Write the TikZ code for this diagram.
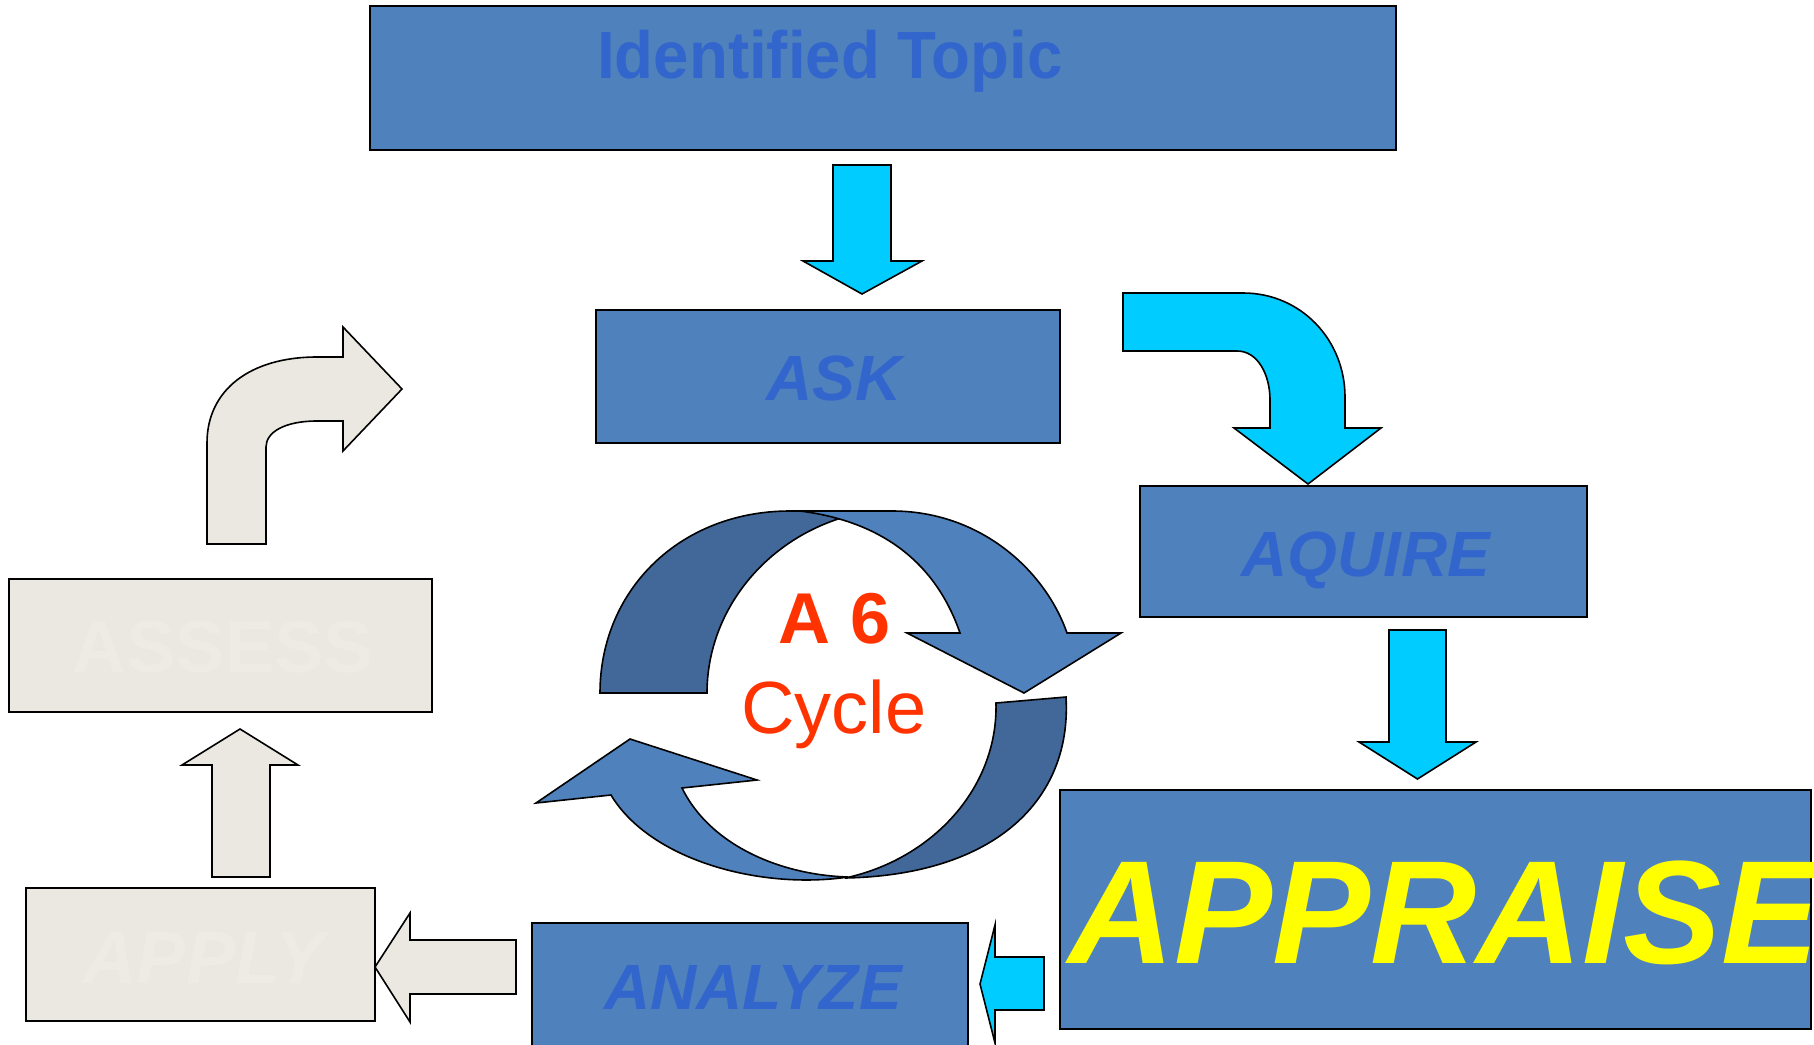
\documentclass[tikz,border=0pt]{standalone}
\usepackage{fontspec}
\setmainfont{Liberation Sans}
\begin{document}
\begin{tikzpicture}[x=1pt,y=-1pt,
  bluebox/.style={draw=black,line width=2pt,fill=boxblue,inner sep=0pt},
  greybox/.style={draw=black,line width=2pt,fill=beige,inner sep=0pt},
  cyanarrow/.style={draw=black,line width=1.6pt,fill=arrowcyan,line join=miter},
  greyarrow/.style={draw=black,line width=1.6pt,fill=beige,line join=miter},
  lightface/.style={draw=black,line width=1.6pt,fill=boxblue,line join=miter},
  darkface/.style={draw=black,line width=1.6pt,fill=darkblue,line join=miter},
  lbl/.style={inner sep=0pt,anchor=base},
]
\definecolor{boxblue}{HTML}{4F81BD}
\definecolor{darkblue}{HTML}{416899}
\definecolor{textblue}{HTML}{3366CC}
\definecolor{arrowcyan}{HTML}{00CCFF}
\definecolor{beige}{HTML}{EAE8E0}
\definecolor{paletext}{HTML}{EDEBE3}
\definecolor{cyclered}{HTML}{FF3300}
\definecolor{appyellow}{HTML}{FFFF00}

\clip (0,0) rectangle (1814,1044);
\fill[white] (0,0) rectangle (1814,1044);

% boxes
\node[bluebox,minimum width=1026pt,minimum height=144pt] (topic) at (883,78) {};
\node[bluebox,minimum width=464pt,minimum height=133pt] (ask) at (828,376.5) {};
\node[bluebox,minimum width=447pt,minimum height=131pt] (aquire) at (1363.5,551.5) {};
\node[bluebox,minimum width=751pt,minimum height=239pt] (appraise) at (1435.5,909.5) {};
\node[bluebox,minimum width=436pt,minimum height=128pt] (analyze) at (750,987) {};
\node[greybox,minimum width=349pt,minimum height=133pt] (apply) at (200.5,954.5) {};
\node[greybox,minimum width=423pt,minimum height=133pt] (assess) at (220.5,645.5) {};

% box labels
\node[inner sep=0pt,anchor=base west,text=textblue,font=\fontsize{63}{63}\selectfont\bfseries,yscale=1.06,xscale=1.01] (topictext) at (597,78) {Identified Topic};
\node[lbl,text=textblue,font=\fontsize{64}{64}\selectfont\bfseries\itshape] (asktext) at (834,400) {ASK};
\node[lbl,text=textblue,font=\fontsize{64}{64}\selectfont\bfseries\itshape] (aquiretext) at (1366,576) {AQUIRE};
\node[lbl,text=textblue,font=\fontsize{64}{64}\selectfont\bfseries\itshape] (analyzetext) at (753,1009) {ANALYZE};
\node[inner sep=0pt,anchor=base west,text=appyellow,font=\fontsize{147}{147}\selectfont\bfseries\itshape] (appraisetext) at (1068,963) {APPRAISE};
\node[lbl,text=paletext,font=\fontsize{74}{74}\selectfont\bfseries\itshape] (applytext) at (204,983) {APPLY};
\node[lbl,text=paletext,font=\fontsize{74}{74}\selectfont\bfseries] (assesstext) at (223,672) {ASSESS};

% topic -> ask
\draw[cyanarrow] (833,165) -- (891,165) -- (891,261) -- (922,261) -- (862,294)
  -- (803,261) -- (833,261) -- cycle;
% ask -> aquire (bent arrow)
\draw[cyanarrow] (1123,293) -- (1243,293) .. controls (1301,293) and (1345,340) .. (1345,397)
  -- (1345,428) -- (1381,428) -- (1308,484) -- (1234,428) -- (1270,428) -- (1270,400)
  .. controls (1270,375) and (1258,351) .. (1237,351) -- (1123,351) -- cycle;
% aquire -> appraise
\draw[cyanarrow] (1389,630) -- (1446,630) -- (1446,742) -- (1476,742) -- (1417.5,779)
  -- (1359,742) -- (1389,742) -- cycle;
% appraise -> analyze
\draw[cyanarrow] (1044,957) -- (1044,1010) -- (995,1010) -- (995,1043) -- (980,984)
  -- (995,925) -- (995,957) -- cycle;
% analyze -> apply
\draw[greyarrow] (516,940) -- (516,994) -- (410,994) -- (410,1022) -- (375,967)
  -- (410,913) -- (410,940) -- cycle;
% apply -> assess
\draw[greyarrow] (212,877) -- (270,877) -- (270,765) -- (298,765) -- (240,729)
  -- (182,765) -- (212,765) -- cycle;
% assess -> onward (bent up-right arrow)
\draw[greyarrow] (207,544) -- (207,443) .. controls (207,390) and (250,357) .. (317,357)
  -- (343,357) -- (343,327) -- (402,389) -- (343,451) -- (343,421) -- (317,421)
  .. controls (285,421) and (266,432) .. (266,447) -- (266,544) -- cycle;

% cycle: upper ribbon, back face
\draw[darkface] (600,693) .. controls (600,590) and (680,511) .. (790,511)
  -- (820,511) -- (838,519) .. controls (760,545) and (707,615) .. (707,693) -- cycle;
% cycle: upper ribbon, front face with head
\draw[lightface] (800,511) -- (892,511) .. controls (980,511) and (1045,570) .. (1067,633)
  -- (1121,633) -- (1024,693) -- (907,633) -- (960,633)
  .. controls (940,575) and (895,523) .. (800,511) -- cycle;
% cycle: lower ribbon, back face
\draw[darkface] (996,703) -- (1066,697) .. controls (1072,800) and (995,875) .. (845,878)
  .. controls (930,860) and (998,790) .. (996,703) -- cycle;
% cycle: lower ribbon, front face with head
\draw[lightface] (848,877) .. controls (760,890) and (650,860) .. (611,795)
  -- (536,803) -- (630,739) -- (757,780) -- (682,788)
  .. controls (710,845) and (780,875) .. (848,877) -- cycle;

% cycle caption
\node[lbl,text=cyclered,font=\fontsize{72}{72}\selectfont\bfseries] (cyclea) at (835,643) {A 6};
\node[lbl,text=cyclered,font=\fontsize{74}{74}\selectfont] (cycleb) at (834,733) {Cycle};
\end{tikzpicture}
\end{document}
